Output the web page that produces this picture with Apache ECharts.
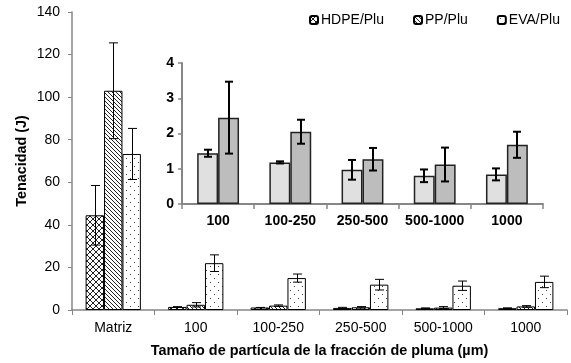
<!DOCTYPE html>
<html>
<head>
<meta charset="utf-8">
<script src="https://cdn.jsdelivr.net/npm/echarts@6/dist/echarts.min.js"></script>
<style>
  html, body { margin: 0; padding: 0; background: #fff; }
  #chart { width: 571px; height: 363px; }
</style>
</head>
<body>
<div id="chart"></div>
<script>
// Particle-size fractions of the feather filler
const categories = ['Matriz', '100', '100-250', '250-500', '500-1000', '1000'];
const seriesNames = ['HDPE/Plu', 'PP/Plu', 'EVA/Plu'];
const yTicks = [0, 20, 40, 60, 80, 100, 120, 140];
const insetTicks = [0, 1, 2, 3, 4];

// Toughness (J) and standard deviations
const hdpe    = [44.5, 1.44, 1.18, 0.97, 0.80, 0.84];
const hdpeErr = [14.0, 0.10, 0.03, 0.28, 0.18, 0.17];
const pp      = [103.0, 2.45, 2.05, 1.27, 1.12, 1.68];
const ppErr   = [22.5, 1.02, 0.34, 0.32, 0.48, 0.37];
const eva     = [73.3, 22.0, 15.0, 11.9, 11.4, 13.2];
const evaErr  = [12.0, 3.9, 1.9, 2.5, 2.2, 2.7];

// Inset: filled composites only (HDPE and PP)
const insetCategories = categories.slice(1);
const insetHdpe = hdpe.slice(1), insetHdpeErr = hdpeErr.slice(1);
const insetPp = pp.slice(1), insetPpErr = ppErr.slice(1);

function makeTile(w, h, draw) {
  const c = document.createElement('canvas');
  c.width = w; c.height = h;
  const ctx = c.getContext('2d');
  ctx.fillStyle = '#fff';
  ctx.fillRect(0, 0, w, h);
  draw(ctx);
  return { image: c, repeat: 'repeat' };
}
const crossHatch = makeTile(6, 6, ctx => {
  ctx.strokeStyle = '#222'; ctx.lineWidth = 1;
  ctx.beginPath();
  ctx.moveTo(-1, -1); ctx.lineTo(7, 7);
  ctx.moveTo(-1, 7); ctx.lineTo(7, -1);
  ctx.stroke();
});
const diagonal = makeTile(4, 4, ctx => {
  ctx.strokeStyle = '#222'; ctx.lineWidth = 1;
  ctx.beginPath();
  for (let k = -4; k <= 4; k += 4) { ctx.moveTo(-1, -1 + k); ctx.lineTo(5, 5 + k); }
  ctx.stroke();
});
const dotted = makeTile(8, 8, ctx => {
  ctx.fillStyle = '#444';
  ctx.fillRect(2, 2, 1, 1);
  ctx.fillRect(6, 6, 1, 1);
});

const MAIN_GAP = 0.33, INSET_GAP = 0.42;

function errorSeries(vals, errs, idx, nBars, gap, axisIdx, lw, cap) {
  return {
    type: 'custom',
    xAxisIndex: axisIdx, yAxisIndex: axisIdx,
    z: 10,
    silent: true,
    data: vals.map((v, i) => [i, v - errs[i], v + errs[i]]),
    renderItem: function (params, api) {
      const c = api.value(0);
      const lo = api.coord([c, api.value(1)]);
      const hi = api.coord([c, api.value(2)]);
      const band = api.size([1, 0])[0];
      const bw = band * (1 - gap) / nBars;
      const x = Math.round(lo[0] + (idx - (nBars - 1) / 2) * bw) + (lw % 2 ? 0.5 : 0);
      const st = { stroke: '#000', lineWidth: lw };
      return {
        type: 'group',
        children: [
          { type: 'line', shape: { x1: x, y1: lo[1], x2: x, y2: hi[1] }, style: st },
          { type: 'line', shape: { x1: x - cap / 2, y1: hi[1], x2: x + cap / 2, y2: hi[1] }, style: st },
          { type: 'line', shape: { x1: x - cap / 2, y1: lo[1], x2: x + cap / 2, y2: lo[1] }, style: st }
        ]
      };
    }
  };
}

const axisGray = '#868686';
const font = 'Liberation Sans, Arial, sans-serif';

const option = {
  animation: false,
  backgroundColor: '#fff',
  textStyle: { fontFamily: font },
  legend: {
    data: seriesNames,
    left: 309, top: 13,
    padding: 0,
    width: 262,
    itemWidth: 8, itemHeight: 8,
    itemGap: 29,
    textStyle: { fontSize: 14, color: '#000', fontFamily: font, padding: [0, 0, 0, -2] }
  },
  grid: [
    { left: 72, right: 4, top: 12, bottom: 50 },
    { left: 182, right: 28, top: 63, bottom: 159 }
  ],
  xAxis: [
    {
      type: 'category', gridIndex: 0, data: categories,
      name: 'Tamaño de partícula de la fracción de pluma (µm)',
      nameLocation: 'middle', nameGap: 34,
      nameTextStyle: { fontSize: 14.4, fontWeight: 'bold', color: '#000', fontFamily: font },
      axisLine: { lineStyle: { color: axisGray, width: 1.5 } },
      axisTick: { show: true, length: 5, lineStyle: { color: axisGray } },
      axisLabel: { fontSize: 14, color: '#000', margin: 11, interval: 0, fontFamily: font }
    },
    {
      type: 'category', gridIndex: 1, data: insetCategories,
      axisLine: { lineStyle: { color: axisGray, width: 2 } },
      axisTick: { show: true, length: 5, lineStyle: { color: axisGray, width: 1.5 } },
      axisLabel: { fontSize: 14, fontWeight: 'bold', color: '#000', margin: 10, interval: 0, fontFamily: font }
    }
  ],
  yAxis: [
    {
      type: 'value', gridIndex: 0, min: yTicks[0], max: yTicks[yTicks.length - 1], interval: 20,
      name: 'Tenacidad (J)', nameLocation: 'middle', nameGap: 43,
      nameMoveOverlap: false,
      nameTextStyle: { fontSize: 14.4, fontWeight: 'bold', color: '#000', fontFamily: font },
      splitLine: { show: false },
      axisLine: { show: true, lineStyle: { color: axisGray, width: 1.5 } },
      axisTick: { show: true, length: 4, lineStyle: { color: axisGray } },
      axisLabel: { fontSize: 14, color: '#000', margin: 12, fontFamily: font }
    },
    {
      type: 'value', gridIndex: 1, min: insetTicks[0], max: insetTicks[insetTicks.length - 1], interval: 1,
      splitLine: { show: false },
      axisLine: { show: true, lineStyle: { color: axisGray, width: 2 } },
      axisTick: { show: true, length: 4, lineStyle: { color: axisGray, width: 1.5 } },
      axisLabel: { fontSize: 14, fontWeight: 'bold', color: '#000', margin: 8, fontFamily: font }
    }
  ],
  series: [
    { name: seriesNames[0], type: 'bar', xAxisIndex: 0, yAxisIndex: 0, data: hdpe,
      barGap: '0%', barCategoryGap: (MAIN_GAP * 100) + '%',
      itemStyle: { color: crossHatch, borderColor: '#000', borderWidth: 1 } },
    { name: seriesNames[1], type: 'bar', xAxisIndex: 0, yAxisIndex: 0, data: pp,
      barGap: '0%', barCategoryGap: (MAIN_GAP * 100) + '%',
      itemStyle: { color: diagonal, borderColor: '#000', borderWidth: 1 } },
    { name: seriesNames[2], type: 'bar', xAxisIndex: 0, yAxisIndex: 0, data: eva,
      barGap: '0%', barCategoryGap: (MAIN_GAP * 100) + '%',
      itemStyle: { color: dotted, borderColor: '#000', borderWidth: 1 } },
    errorSeries(hdpe, hdpeErr, 0, 3, MAIN_GAP, 0, 1, 9),
    errorSeries(pp, ppErr, 1, 3, MAIN_GAP, 0, 1, 9),
    errorSeries(eva, evaErr, 2, 3, MAIN_GAP, 0, 1, 9),

    { name: 'HDPE inset', type: 'bar', xAxisIndex: 1, yAxisIndex: 1, data: insetHdpe,
      barGap: '0%', barCategoryGap: (INSET_GAP * 100) + '%',
      itemStyle: { color: '#e0e0e0', borderColor: '#222', borderWidth: 1.5 } },
    { name: 'PP inset', type: 'bar', xAxisIndex: 1, yAxisIndex: 1, data: insetPp,
      barGap: '0%', barCategoryGap: (INSET_GAP * 100) + '%',
      itemStyle: { color: '#bdbdbd', borderColor: '#222', borderWidth: 1.5 } },
    errorSeries(insetHdpe, insetHdpeErr, 0, 2, INSET_GAP, 1, 2, 8),
    errorSeries(insetPp, insetPpErr, 1, 2, INSET_GAP, 1, 2, 8)
  ]
};

const chart = echarts.init(document.getElementById('chart'), null, { renderer: 'canvas' });
chart.setOption(option);
</script>
</body>
</html>
